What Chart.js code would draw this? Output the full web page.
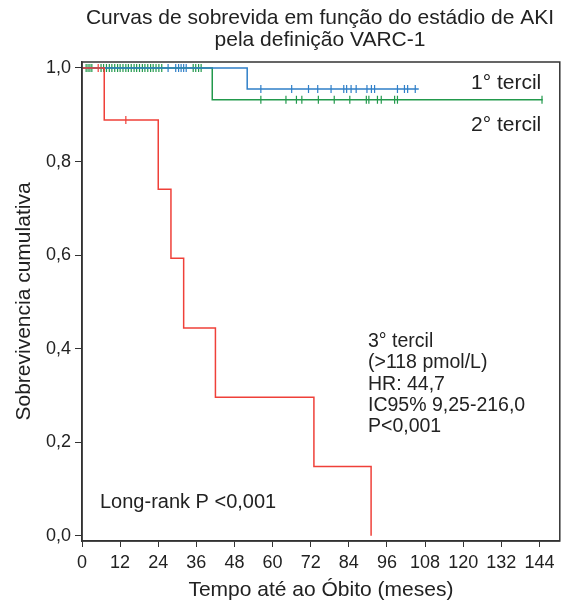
<!DOCTYPE html>
<html>
<head>
<meta charset="utf-8">
<script src="https://cdn.jsdelivr.net/npm/chart.js@4"></script>
<style>
  html, body { margin: 0; background: #fff; }
</style>
</head>
<body>
<canvas id="km" width="565" height="604"></canvas>
<script>
// tick labels
const xTicks = [0, 12, 24, 36, 48, 60, 72, 84, 96, 108, 120, 132, 144];
const yTicks = [0, 0.2, 0.4, 0.6, 0.8, 1.0];

// Kaplan-Meier steps (time in months, survival after the event)
const t1Times = [0, 52, 106];
const t1Surv  = [1, 0.955, 0.955];
const t2Times = [0, 41, 145];
const t2Surv  = [1, 0.932, 0.932];
const t3Times = [0, 7, 24, 28, 32, 42, 73, 91];
const t3Surv  = [1, 0.889, 0.741, 0.593, 0.444, 0.296, 0.148, 0];

// censored cases
const t1CensTop = [27.1, 29.5, 30.4, 31.2, 32.0, 32.8];
const t1CensLow = [56.3, 66, 71.3, 74.2, 78.4, 82.4, 83.3, 84.7, 86.3, 89.7, 91.1, 92.1, 99.3, 101.5, 102.5, 104.9];
const t2CensTop = [1.3, 1.9, 2.5, 3.1, 6.0, 6.8, 7.7, 8.6, 9.4, 10.3, 11.2, 12.0, 12.9, 13.8, 14.6, 15.5,
                   16.4, 17.2, 18.1, 19.0, 19.8, 20.7, 21.6, 22.4, 23.3, 24.2, 25.1, 35.0, 35.8, 36.7, 37.5];
const t2CensLow = [56.3, 64.2, 67.5, 69.2, 74.4, 79.4, 84.3, 89.5, 90.3, 93, 94.2, 98.4, 99.3, 144.8];
const t3CensTop = [5.1];
const t3CensLow = [13.8];

const blue = '#2f7fc8';
const green = '#22994c';
const red = '#ef4039';
const ink = '#222';
const fam = '"Liberation Sans", Arial, sans-serif';

const pts = (xs, ys) => xs.map((x, i) => ({ x: x, y: ys[i] }));
const cens = (xs, y) => xs.map(x => ({ x: x, y: y }));

function stepSet(data, color) {
  return { type: 'line', data: data, borderColor: color, borderWidth: 1.5,
           stepped: 'before', pointRadius: 0, fill: false };
}
function censSet(data, color) {
  return { type: 'scatter', data: data, borderColor: color, backgroundColor: color,
           pointStyle: 'line', rotation: 90, pointRadius: 4, borderWidth: 1.2 };
}

// frame round the plot and the texts
const extras = {
  id: 'extras',
  afterDraw(chart) {
    const { ctx, chartArea: a } = chart;
    ctx.save();
    ctx.strokeStyle = '#333';
    ctx.lineWidth = 1.5;
    ctx.strokeRect(a.left, a.top, a.right - a.left, a.bottom - a.top);

    ctx.fillStyle = ink;
    ctx.font = '21px ' + fam;
    ctx.textAlign = 'center';
    ctx.fillText('Curvas de sobrevida em função do estádio de AKI', 320, 24);
    ctx.fillText('pela definição VARC-1', 320, 46);

    ctx.textAlign = 'left';
    ctx.fillText('1° tercil', 471, 89);
    ctx.fillText('2° tercil', 471, 131);
    ctx.font = '19.5px ' + fam;
    const lines = ['3° tercil', '(>118 pmol/L)', 'HR: 44,7', 'IC95% 9,25-216,0', 'P<0,001'];
    lines.forEach((s, i) => ctx.fillText(s, 368, 347 + i * 21.3));
    ctx.font = '20px ' + fam;
    ctx.fillText('Long-rank P <0,001', 100, 508);
    ctx.restore();
  }
};

new Chart(document.getElementById('km'), {
  data: {
    datasets: [
      stepSet(pts(t3Times, t3Surv), red),
      stepSet(pts(t1Times, t1Surv), blue),
      stepSet(pts(t2Times, t2Surv), green),
      censSet(cens(t3CensTop, t3Surv[0]).concat(cens(t3CensLow, t3Surv[1])), red),
      censSet(cens(t1CensTop, t1Surv[0]).concat(cens(t1CensLow, t1Surv[1])), blue),
      censSet(cens(t2CensTop, t2Surv[0]).concat(cens(t2CensLow, t2Surv[1])), green)
    ]
  },
  options: {
    responsive: false,
    animation: false,
    layout: { padding: { top: 62, right: 2, left: 0, bottom: 0 } },
    plugins: { legend: { display: false }, tooltip: { enabled: false } },
    scales: {
      x: {
        type: 'linear', min: 0, max: 150.4,
        afterBuildTicks: s => { s.ticks = xTicks.map(v => ({ value: v })); },
        afterFit: s => { s.height = 63; },
        grid: { drawOnChartArea: false, drawTicks: true, tickLength: 6, color: '#333' },
        border: { display: true, color: '#333', width: 1.5 },
        ticks: { color: ink, padding: 5, maxRotation: 0, autoSkip: false,
                 font: { family: fam, size: 18 } },
        title: { display: true, text: 'Tempo até ao Óbito (meses)', color: ink,
                 padding: { top: 0, bottom: 1 },
                 font: { family: fam, size: 21 } }
      },
      y: {
        type: 'linear', min: -0.0113, max: 1.0128,
        afterBuildTicks: s => { s.ticks = yTicks.map(v => ({ value: v })); },
        afterFit: s => { s.width = 82; },
        grid: { drawOnChartArea: false, drawTicks: true, tickLength: 7, color: '#333' },
        border: { display: true, color: '#333', width: 1.5 },
        ticks: { color: ink, padding: 4,
                 callback: v => v.toFixed(1).replace('.', ','),
                 font: { family: fam, size: 18 } },
        title: { display: true, text: 'Sobrevivencia cumulativa', color: ink,
                 padding: { top: 12, bottom: 0 },
                 font: { family: fam, size: 21 } }
      }
    }
  },
  plugins: [extras]
});
</script>
</body>
</html>
